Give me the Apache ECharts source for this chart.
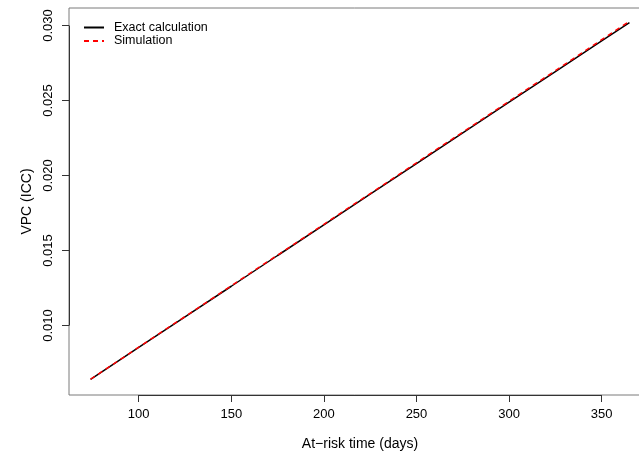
<!DOCTYPE html>
<html>
<head>
<meta charset="utf-8">
<script src="https://cdn.jsdelivr.net/npm/echarts@6/dist/echarts.min.js"></script>
<style>
  html, body { margin: 0; padding: 0; background: #fff; }
  #vpcChart { width: 639px; height: 454px; }
</style>
</head>
<body>
<div id="vpcChart"></div>
<script>
// values
var days = [74, 100, 125, 150, 175, 200, 225, 250, 275, 300, 325, 350, 365];
var exactVpc = [0.00641, 0.00854, 0.01058, 0.01262, 0.01467, 0.01671, 0.01876, 0.02080, 0.02285, 0.02489, 0.02693, 0.02898, 0.03020];
var simVpc = [0.00642, 0.00856, 0.01060, 0.01265, 0.01470, 0.01675, 0.01880, 0.02085, 0.02290, 0.02495, 0.02700, 0.02906, 0.03028];
var xTicks = [100, 150, 200, 250, 300, 350];
var yTicks = [0.010, 0.015, 0.020, 0.025, 0.030];

var myChart = echarts.init(document.getElementById('vpcChart'));

function pairs(xs, ys) {
	var out = [];
	for (var i = 0; i < xs.length; i++) {
		out.push([xs[i], ys[i]]);
	}
	return out;
}

var font = 'Liberation Sans, Arial, Helvetica, sans-serif';
var xMin = 62.36, xMax = 376.64;
var yMin = 0.00537, yMax = 0.03117;

var option = {
	animation: false,
	textStyle: { fontFamily: font },
	grid: {
		left: 69,
		top: 8,
		width: 582,
		height: 387,
		show: true,
		borderColor: '#7a7a7a',
		borderWidth: 1,
		containLabel: false,
		outerBoundsMode: 'none'
	},
	legend: {
		orient: 'vertical',
		left: 78,
		top: 16,
		itemWidth: 20,
		itemHeight: 11,
		itemGap: 0.5,
		itemStyle: { opacity: 0 },
		textStyle: {
			fontFamily: font,
			fontSize: 12.5,
			color: '#000',
			lineHeight: 11,
			padding: [0, 0, 0, 5]
		},
		data: ['Exact calculation', 'Simulation']
	},
	xAxis: {
		type: 'value',
		min: xMin,
		max: xMax,
		name: 'At\u2212risk time (days)',
		nameLocation: 'middle',
		nameGap: 42,
		nameTextStyle: { fontFamily: font, fontSize: 14, color: '#000' },
		axisLine: { show: false },
		axisTick: {
			show: true,
			length: 7,
			customValues: xTicks,
			lineStyle: { color: '#333', width: 1 }
		},
		axisLabel: {
			fontFamily: font,
			fontSize: 13,
			color: '#000',
			margin: 13,
			customValues: xTicks
		},
		splitLine: { show: false }
	},
	yAxis: {
		type: 'value',
		min: yMin,
		max: yMax,
		name: 'VPC (ICC)',
		nameLocation: 'middle',
		nameGap: 33,
		nameRotate: 90,
		nameTextStyle: { fontFamily: font, fontSize: 14, color: '#000' },
		axisLine: { show: false },
		axisTick: {
			show: true,
			length: 7,
			customValues: yTicks,
			lineStyle: { color: '#333', width: 1 }
		},
		axisLabel: {
			fontFamily: font,
			fontSize: 13,
			color: '#000',
			rotate: 90,
			margin: 14,
			customValues: yTicks,
			formatter: function (v) { return v.toFixed(3); }
		},
		splitLine: { show: false }
	},
	series: [{
		name: 'Exact calculation',
		type: 'line',
		symbol: 'none',
		lineStyle: { color: '#000', width: 1.5 },
		itemStyle: { color: '#000' },
		data: pairs(days, exactVpc),
		z: 2
	}, {
		name: 'Simulation',
		type: 'line',
		symbol: 'none',
		lineStyle: { color: '#ff0000', width: 1.5, type: [5, 4] },
		itemStyle: { color: '#ff0000' },
		data: pairs(days, simVpc),
		z: 3
	}, {
		// darker axis segments between the first and last ticks, like base R
		name: 'axes',
		type: 'line',
		data: [],
		silent: true,
		markLine: {
			symbol: 'none',
			silent: true,
			label: { show: false },
			lineStyle: { color: '#333', width: 1, type: 'solid' },
			data: [
				[{ coord: [xTicks[0], yMin] }, { coord: [xTicks[xTicks.length - 1], yMin] }],
				[{ coord: [xMin, yTicks[0]] }, { coord: [xMin, yTicks[yTicks.length - 1]] }]
			]
		}
	}]
};

myChart.setOption(option);
window.onresize = myChart.resize;
</script>
</body>
</html>
